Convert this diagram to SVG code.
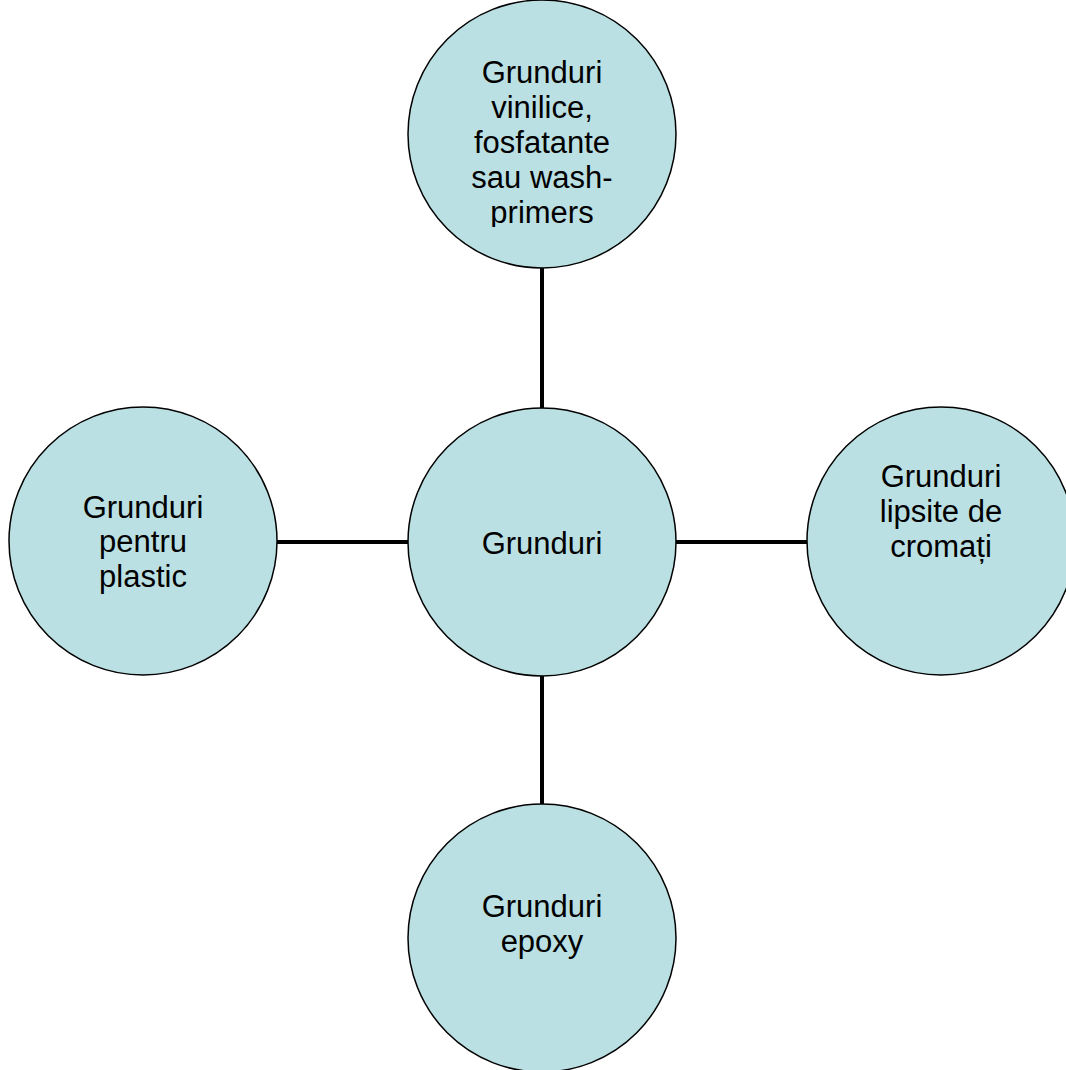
<svg xmlns="http://www.w3.org/2000/svg" width="1066" height="1070" viewBox="0 0 1066 1070">
<style>
.node{fill:#BBE0E3;stroke:#000;stroke-width:1.5}
.lbl{font-family:"Liberation Sans",Arial,sans-serif;font-size:31px;fill:#000;text-anchor:middle}
.conn{stroke:#000;stroke-width:4;fill:none}
</style>
<defs>
<clipPath id="clipTop"><rect x="408" y="0" width="270" height="227"/></clipPath>
</defs>
<rect width="1066" height="1070" fill="#fff"/>
<g id="connectors">
<line class="conn" x1="542" y1="268" x2="542" y2="408"/>
<line class="conn" x1="542" y1="676" x2="542" y2="805"/>
<line class="conn" x1="277" y1="542" x2="408" y2="542"/>
<line class="conn" x1="676" y1="542" x2="807" y2="542"/>
</g>
<g id="node-top">
<circle class="node" cx="542" cy="134" r="134"/>
<text class="lbl" clip-path="url(#clipTop)"><tspan x="542" y="83">Grunduri</tspan><tspan x="542" y="118">vinilice,</tspan><tspan x="542" y="153">fosfatante</tspan><tspan x="542" y="188">sau wash-</tspan><tspan x="542" y="223">primers</tspan></text>
</g>
<g id="node-center">
<circle class="node" cx="542" cy="542" r="134"/>
<text class="lbl" x="542" y="554">Grunduri</text>
</g>
<g id="node-left">
<circle class="node" cx="143" cy="541" r="134"/>
<text class="lbl"><tspan x="143" y="518">Grunduri</tspan><tspan x="143" y="552">pentru</tspan><tspan x="143" y="587">plastic</tspan></text>
</g>
<g id="node-right">
<circle class="node" cx="941" cy="541" r="134"/>
<text class="lbl"><tspan x="941" y="487">Grunduri</tspan><tspan x="941" y="522">lipsite de</tspan><tspan x="941" y="557">cromați</tspan></text>
</g>
<g id="node-bottom">
<circle class="node" cx="542" cy="938" r="134"/>
<text class="lbl"><tspan x="542" y="917">Grunduri</tspan><tspan x="542" y="952">epoxy</tspan></text>
</g>
</svg>
